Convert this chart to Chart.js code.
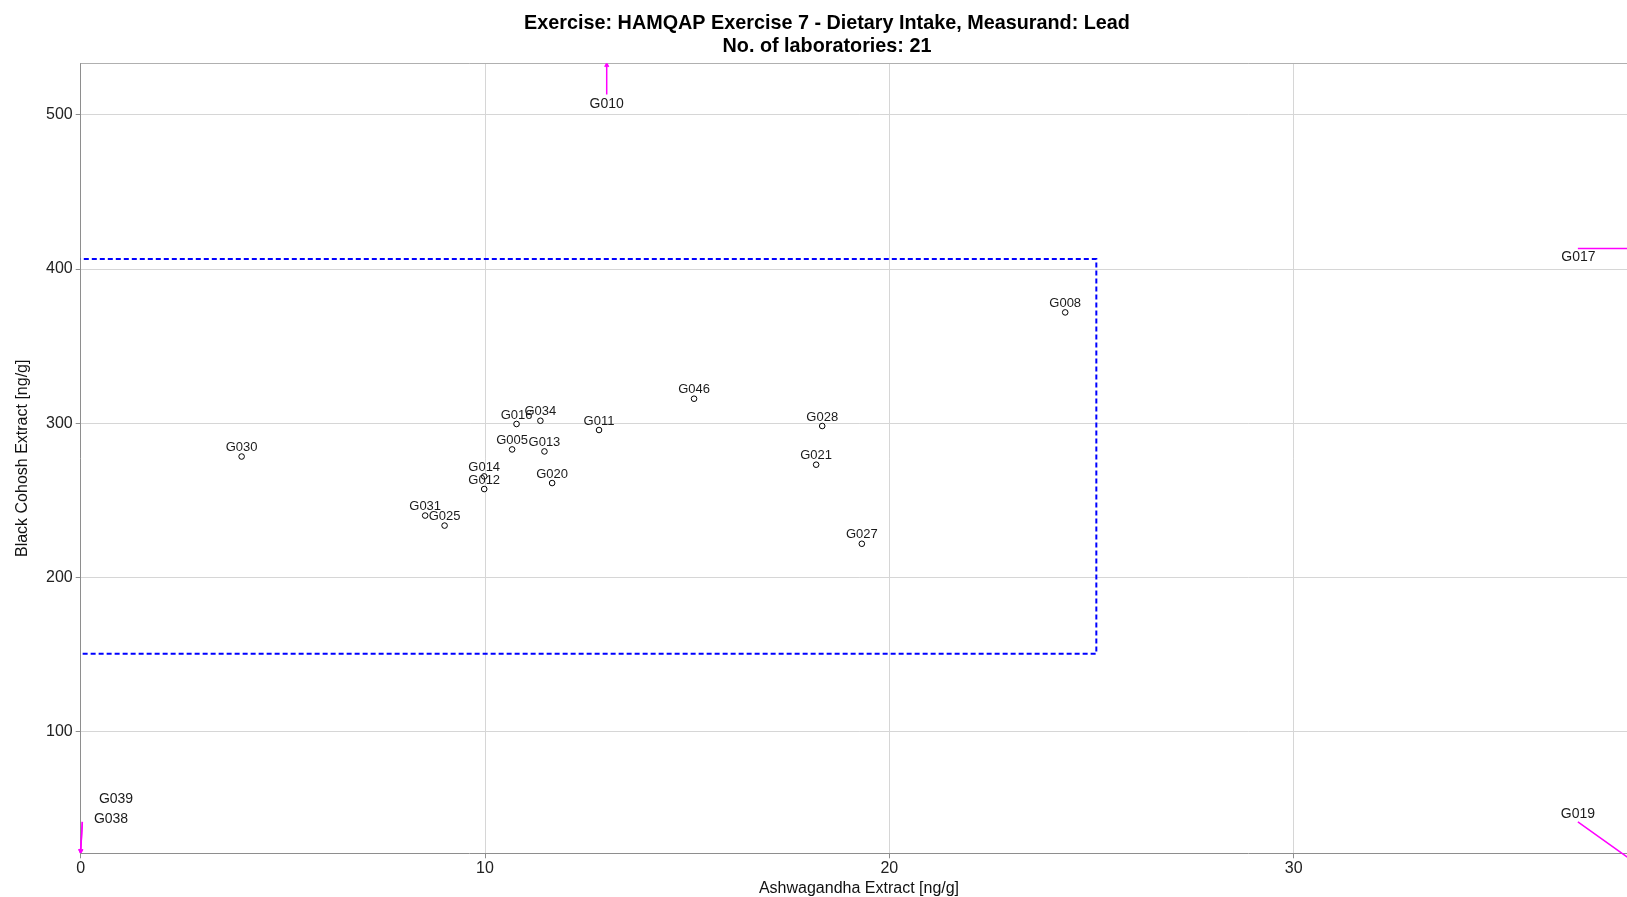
<!DOCTYPE html>
<html>
<head>
<meta charset="utf-8">
<script src="https://cdn.jsdelivr.net/npm/chart.js@4/dist/chart.umd.min.js"></script>
<style>
  html, body { margin: 0; padding: 0; overflow: hidden; background: #ffffff; }
  canvas { display: block; }
</style>
</head>
<body>
<canvas id="chart" width="1654" height="897"></canvas>
<script>
// Laboratory results inside the plotted range
const labCodes = ['G030', 'G031', 'G025', 'G014', 'G012', 'G005', 'G016', 'G034',
                  'G013', 'G020', 'G011', 'G046', 'G021', 'G028', 'G027', 'G008'];
const ashwagandha = [3.98, 8.52, 9.00, 9.98, 9.98, 10.67, 10.78, 11.37,
                     11.47, 11.66, 12.82, 15.17, 18.19, 18.34, 19.32, 24.35];
const blackCohosh = [278.4, 240.1, 233.6, 265.5, 257.3, 283.0, 299.5, 301.6,
                     281.7, 261.2, 295.6, 315.9, 273.1, 298.2, 221.8, 371.9];

// Results outside the plotted range: where the arrow starts, and the direction of the reported value
const outlierCodes = ['G010', 'G017', 'G019', 'G038', 'G039'];
const outlierStartX = [13.01, 37.03, 37.03, 0.04, 0.04];
const outlierStartY = [513.3, 413.3, 41.4, 41.4, 41.4];
const outlierTowardX = [13.01, 52.0, 41.8, -0.13, -0.13];
const outlierTowardY = [620.0, 413.3, -47.8, -39.0, -39.0];

// Acceptance region (dashed rectangle)
const rangeX = [-2.1, 25.12];
const rangeY = [150.5, 406.6];

// Axis extents and tick values
const xExtent = [0, 38.5];
const yExtent = [21.0, 533.5];
const xTickValues = [0, 10, 20, 30];
const yTickValues = [100, 200, 300, 400, 500];

const titleLines = ['Exercise: HAMQAP Exercise 7 - Dietary Intake, Measurand: Lead',
                    'No. of laboratories: 21'];
const xTitle = 'Ashwagandha Extract [ng/g]';
const yTitle = 'Black Cohosh Extract [ng/g]';

// Label placement and arrow length for the out-of-range results (pixels)
const outlierStyle = {
  G010: { dx: 0,    dy: 13.3, len: 31 },
  G017: { dx: 0.5,  dy: 12.7, len: 90 },
  G019: { dx: 0,    dy: -3.4, len: 90 },
  G038: { dx: 28.7, dy: 1.0,  len: 31 },
  G039: { dx: 33.7, dy: -19,  len: 31 }
};

const FONT = '"Liberation Sans", Arial, sans-serif';
const GRID = '#d6d6d6';
const AXIS = '#8e8e8e';
const MAGENTA = '#ff00ff';

const keepTicks = (values) => (scale) => {
  scale.ticks = values.map(v => ({ value: v }));
};

// Two-line heading, centred on the whole canvas
const heading = {
  id: 'heading',
  afterDraw(chart) {
    const { ctx, width } = chart;
    ctx.save();
    ctx.font = 'bold 19.8px ' + FONT;
    ctx.fillStyle = '#000000';
    ctx.textAlign = 'center';
    ctx.textBaseline = 'middle';
    titleLines.forEach((line, i) => ctx.fillText(line, width / 2, 23.3 + i * 22.9));
    ctx.restore();
  }
};

const frame = {
  id: 'frame',
  beforeDatasetsDraw(chart) {
    const { ctx, chartArea: a, scales: { x, y } } = chart;
    ctx.save();
    // top border of the plot
    ctx.strokeStyle = '#b0b0b0';
    ctx.lineWidth = 1;
    ctx.beginPath();
    ctx.moveTo(a.left, Math.round(a.top) + 0.5);
    ctx.lineTo(a.right, Math.round(a.top) + 0.5);
    ctx.stroke();
    // acceptance rectangle
    ctx.beginPath();
    ctx.rect(a.left, a.top, a.right - a.left, a.bottom - a.top);
    ctx.clip();
    const x0 = x.getPixelForValue(rangeX[0]);
    const x1 = x.getPixelForValue(rangeX[1]);
    const y0 = y.getPixelForValue(rangeY[0]);
    const y1 = y.getPixelForValue(rangeY[1]);
    ctx.strokeStyle = '#0000ff';
    ctx.lineWidth = 2;
    ctx.setLineDash([5, 3]);
    ctx.strokeRect(x0, y1, x1 - x0, y0 - y1);
    ctx.restore();
  },
  afterDatasetsDraw(chart) {
    const { ctx, scales: { x, y } } = chart;
    const meta = chart.getDatasetMeta(0);
    ctx.save();
    // point labels
    ctx.font = '13px ' + FONT;
    ctx.fillStyle = '#1b1b1b';
    ctx.textAlign = 'center';
    ctx.textBaseline = 'alphabetic';
    meta.data.forEach((pt, i) => {
      ctx.fillText(labCodes[i], pt.x, pt.y - 5.5);
    });
    // arrows toward out-of-range results
    ctx.font = '14px ' + FONT;
    outlierCodes.forEach((code, i) => {
      const st = outlierStyle[code];
      const sx = x.getPixelForValue(outlierStartX[i]);
      const sy = y.getPixelForValue(outlierStartY[i]);
      const tx = x.getPixelForValue(outlierTowardX[i]);
      const ty = y.getPixelForValue(outlierTowardY[i]);
      const d = Math.hypot(tx - sx, ty - sy);
      const ux = (tx - sx) / d, uy = (ty - sy) / d;
      const ex = sx + ux * st.len, ey = sy + uy * st.len;
      ctx.strokeStyle = MAGENTA;
      ctx.lineWidth = 1.5;
      ctx.beginPath();
      ctx.moveTo(sx, sy);
      ctx.lineTo(ex, ey);
      const ang = Math.atan2(uy, ux);
      const h = 4;
      ctx.moveTo(ex, ey);
      ctx.lineTo(ex - h * Math.cos(ang - 0.5), ey - h * Math.sin(ang - 0.5));
      ctx.moveTo(ex, ey);
      ctx.lineTo(ex - h * Math.cos(ang + 0.5), ey - h * Math.sin(ang + 0.5));
      ctx.stroke();
      ctx.fillStyle = '#1b1b1b';
      ctx.fillText(code, sx + st.dx, sy + st.dy);
    });
    ctx.restore();
  }
};

new Chart(document.getElementById('chart'), {
  type: 'scatter',
  data: {
    datasets: [{
      data: ashwagandha.map((v, i) => ({ x: v, y: blackCohosh[i] })),
      pointStyle: 'circle',
      pointRadius: 2.8,
      pointBorderWidth: 1,
      pointBorderColor: '#000000',
      pointBackgroundColor: '#ffffff'
    }]
  },
  options: {
    responsive: false,
    animation: false,
    events: [],
    layout: { padding: { left: 0, right: 16.7, top: 63.3, bottom: 0 } },
    plugins: {
      legend: { display: false },
      tooltip: { enabled: false },
      title: { display: false }
    },
    scales: {
      x: {
        type: 'linear',
        min: xExtent[0],
        max: xExtent[1],
        afterBuildTicks: keepTicks(xTickValues),
        afterFit(scale) { scale.height = 43.7; },
        grid: { color: GRID, lineWidth: 1, tickLength: 5, tickColor: AXIS },
        border: { display: true, color: AXIS, width: 1 },
        ticks: { color: '#222222', padding: 1, maxRotation: 0, autoSkip: false,
                 font: { family: FONT, size: 16 } },
        title: { display: true, text: xTitle, color: '#111111',
                 font: { family: FONT, size: 16 }, padding: { top: 0, bottom: -1.5 } }
      },
      y: {
        type: 'linear',
        min: yExtent[0],
        max: yExtent[1],
        afterBuildTicks: keepTicks(yTickValues),
        afterFit(scale) { scale.width = 80.7; },
        grid: { color: GRID, lineWidth: 1, tickLength: 5, tickColor: AXIS },
        border: { display: true, color: AXIS, width: 1 },
        ticks: { color: '#222222', padding: 3, autoSkip: false,
                 font: { family: FONT, size: 16 } },
        title: { display: true, text: yTitle, color: '#111111',
                 font: { family: FONT, size: 16 }, padding: { top: 13.2, bottom: 0 } }
      }
    }
  },
  plugins: [frame, heading]
});
</script>
</body>
</html>
